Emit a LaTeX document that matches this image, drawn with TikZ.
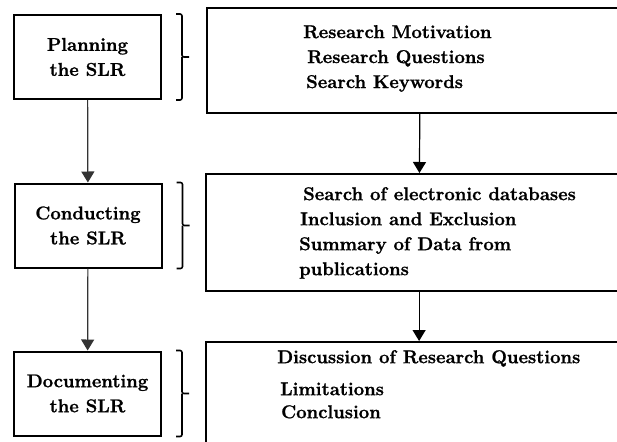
\documentclass[tikz,border=0pt]{standalone}
\usepackage{fontspec}
\setmainfont{Latin Modern Roman}[BoldFeatures={FakeBold=1.2}]
\usepackage{tikz}
\usetikzlibrary{positioning,arrows.meta}

\begin{document}
\begin{tikzpicture}[
  x=1pt,y=-1pt,
  txt/.style={font=\fontsize{18.5}{25}\selectfont\bfseries},
  stage/.style={txt,rectangle,draw,line width=2pt,minimum width=147pt,minimum height=84pt,align=center,inner sep=0pt},
  task/.style={rectangle,draw,line width=2.2pt,minimum width=426pt,anchor=north west,inner sep=0pt},
  items/.style={txt,anchor=north west,align=left,inner sep=0pt},
  edge/.style={-{Triangle[width=13pt,length=11pt]},line width=1.2pt},
  grp/.style={line width=1.6pt,rounded corners=2pt}
]
\useasboundingbox (0,0) rectangle (617,441);
\clip (0,0) rectangle (617,441);
% left column
\node[stage] (plan) at (87.5,57) {Planning\\the SLR};
\node[stage] (cond) at (88,225.5) {Conducting\\the SLR};
\node[stage] (docu) at (87.5,393.5) {Documenting\\the SLR};
% right column
\node[task,minimum height=105pt] (tplan) at (206,7) {};
\node[task,minimum height=117pt] (tcond) at (205,173) {};
\node[task,minimum height=120pt] (tdocu) at (205,341) {};
\node[items] (lplan) at (303,25) {Research Motivation\\\hspace*{4pt}Research Questions\\\hspace*{3pt}Search Keywords};
\node[items] (lcond) at (299,187) {\hspace*{4pt}Search of electronic databases\\\hspace*{1pt}Inclusion and Exclusion\\Summary of Data from\\publications};
\node[items] (ldocu) at (277,350) {Discussion of Research Questions\\[7pt]\hspace*{3pt}Limitations\\[-2pt]\hspace*{4pt}Conclusion};
% arrows
\draw[edge,black!80] (plan) -- (cond);
\draw[edge,black!80] (cond) -- (docu);
\draw[edge] (tplan) -- (tcond);
\draw[edge] (tcond) -- (tdocu);
% brackets
\foreach \s in {plan,cond,docu} {
  \draw[grp] ([xshift=14pt]\s.north east) -| ([xshift=20pt]\s.east) -- ([xshift=27pt]\s.east);
  \draw[grp] ([xshift=20pt]\s.east) |- ([xshift=14pt]\s.south east);
}
\end{tikzpicture}
\end{document}
